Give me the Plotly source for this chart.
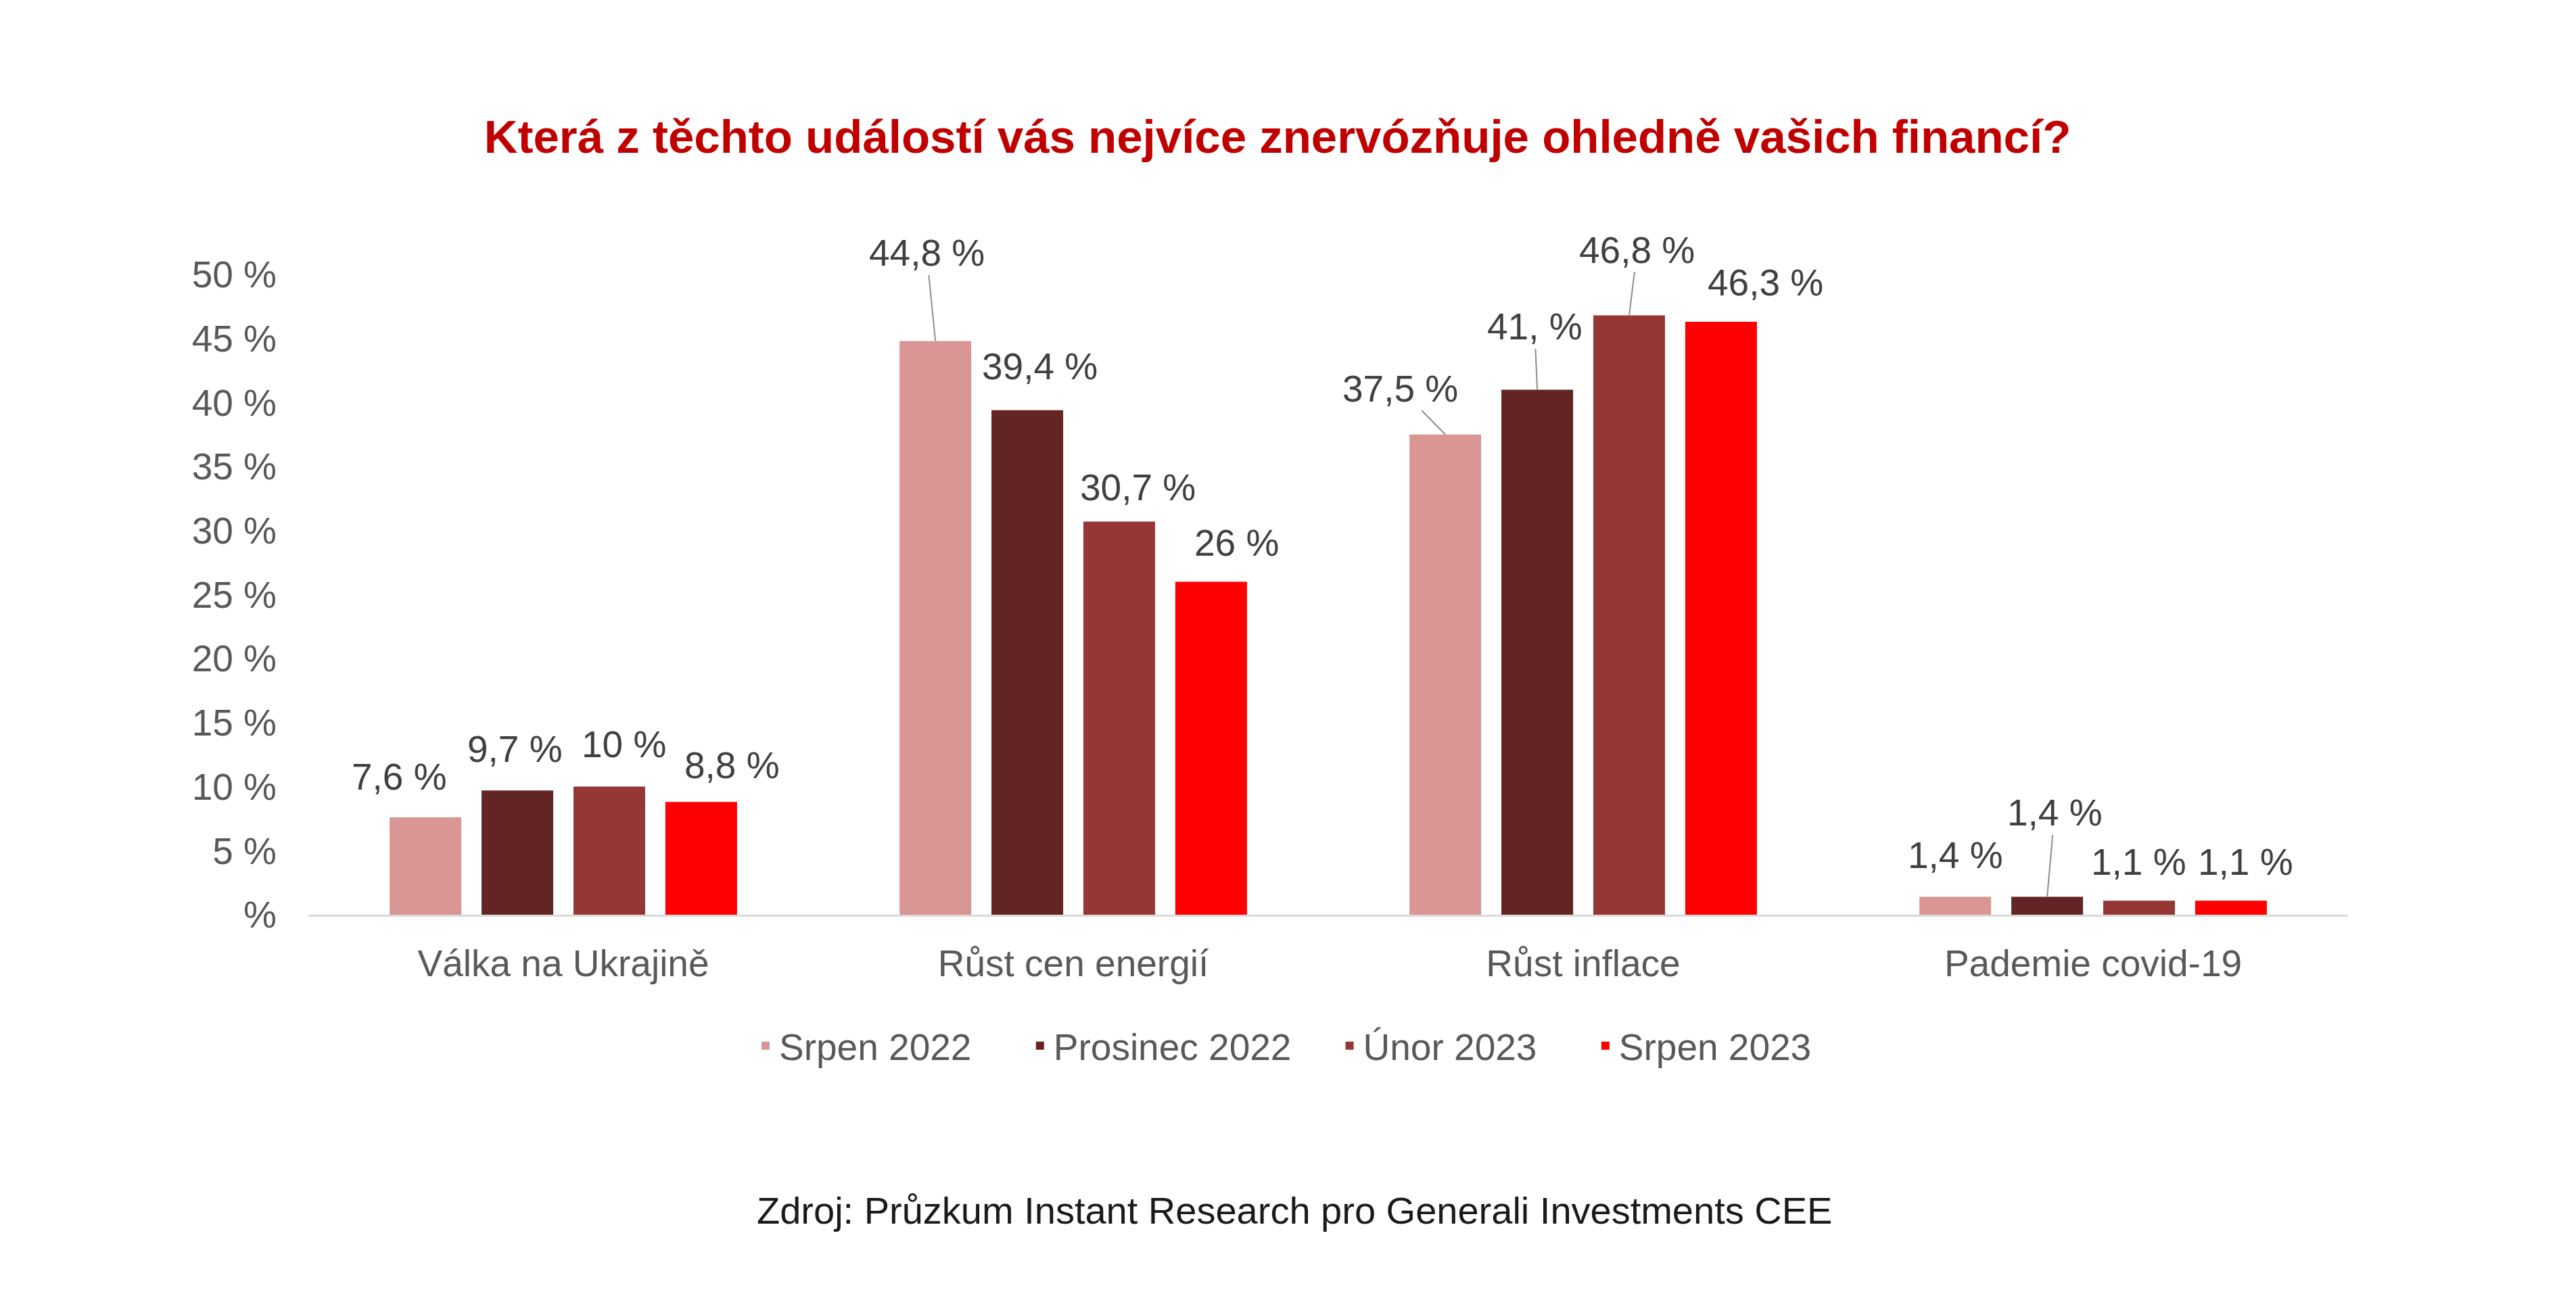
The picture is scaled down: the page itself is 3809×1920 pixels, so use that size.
import plotly.graph_objects as go

# ---------------- data ----------------
categories = ["Válka na Ukrajině", "Růst cen energií", "Růst inflace", "Pademie covid-19"]
series_names = ["Srpen 2022", "Prosinec 2022", "Únor 2023", "Srpen 2023"]
srpen_2022 = [7.6, 44.8, 37.5, 1.4]
prosinec_2022 = [9.7, 39.4, 41.0, 1.4]
unor_2023 = [10.0, 30.7, 46.8, 1.1]
srpen_2023 = [8.8, 26.0, 46.3, 1.1]
series_values = [srpen_2022, prosinec_2022, unor_2023, srpen_2023]

# data label texts as printed in the source chart
label_texts = [
    ["7,6 %", "44,8 %", "37,5 %", "1,4 %"],
    ["9,7 %", "39,4 %", "41, %", "1,4 %"],
    ["10 %", "30,7 %", "46,8 %", "1,1 %"],
    ["8,8 %", "26 %", "46,3 %", "1,1 %"],
]

y_tick_vals = [0, 5, 10, 15, 20, 25, 30, 35, 40, 45, 50]
y_tick_text = ["%", "5 %", "10 %", "15 %", "20 %", "25 %", "30 %", "35 %", "40 %", "45 %", "50 %"]

title_text = "Která z těchto událostí vás nejvíce znervózňuje ohledně vašich financí?"
source_text = "Zdroj: Průzkum Instant Research pro Generali Investments CEE"

# ---------------- styling ----------------
colors = ["#D99694", "#632523", "#953735", "#FF0000"]
FONT = "Liberation Sans, Arial, sans-serif"
TEXT_GRAY = "#595959"
LABEL_GRAY = "#404040"

W, H = 3809, 1920
M_L, M_R, M_T, M_B = 456, 337, 406, 567
BARGAP = 0.279
BARGROUPGAP = 0.22

# trailing spacing after each legend entry (number of non-breaking spaces)
legend_pad = [5, 4, 5, 0]

# label offsets (pixels) from bar top: (dx, dy, leader_line)
label_offsets = [
    [(-39, -60, False), (-13, -130, True), (-67, -68, True), (0, -61, False)],
    [(-4, -61, False), (18, -65, False), (-4, -93, True), (11, -124, True)],
    [(22, -63, False), (28, -51, False), (12, -97, True), (0, -57, False)],
    [(46, -54, False), (38, -58, False), (66, -58, False), (22, -57, False)],
]

plot_w = W - M_L - M_R
plot_h = H - M_T - M_B

fig = go.Figure()
for name, vals, col, pad in zip(series_names, series_values, colors, legend_pad):
    fig.add_trace(go.Bar(
        x=categories, y=vals, name=name + "\u00a0" * pad,
        marker=dict(color=col, line=dict(width=0)),
        hoverinfo="skip",
    ))

# bar centre offsets in category units
n_series = len(series_names)
slot = (1 - BARGAP) / n_series
annotations = []
for k in range(n_series):
    for i in range(len(categories)):
        xc = i + (k - (n_series - 1) / 2) * slot
        dx, dy, leader = label_offsets[k][i]
        annotations.append(dict(
            x=xc, y=series_values[k][i], xref="x", yref="y",
            text=label_texts[k][i],
            showarrow=True, ax=dx, ay=dy, axref="pixel", ayref="pixel",
            arrowhead=0, arrowwidth=2 if leader else 0.1,
            arrowcolor="#8C8C8C" if leader else "rgba(0,0,0,0)",
            standoff=0, startstandoff=0,
            font=dict(family=FONT, size=55, color=LABEL_GRAY),
        ))

annotations.append(dict(
    x=(1914 - M_L) / plot_w, y=(H - M_B - 1790) / plot_h,
    xref="paper", yref="paper",
    text=source_text, showarrow=False, xanchor="center", yanchor="middle",
    font=dict(family=FONT, size=56, color="#1A1A1A"),
))

fig.update_layout(
    width=W, height=H,
    margin=dict(l=M_L, r=M_R, t=M_T, b=M_B, pad=0),
    paper_bgcolor="white", plot_bgcolor="white",
    barmode="group", bargap=BARGAP, bargroupgap=BARGROUPGAP,
    font=dict(family=FONT, size=55, color=TEXT_GRAY),
    title=dict(
        text=title_text, x=1889 / W, y=1 - 202 / H,
        xref="container", yref="container", xanchor="center", yanchor="middle",
        font=dict(family=FONT, size=69, color="#C00000", weight="bold"),
    ),
    xaxis=dict(
        showline=True, linecolor="#D9D9D9", linewidth=3,
        showgrid=False, ticks="", tickfont=dict(family=FONT, size=55, color=TEXT_GRAY),
        ticklabelstandoff=22,
    ),
    yaxis=dict(
        range=[0, 50], tickvals=y_tick_vals, ticktext=y_tick_text,
        showgrid=False, zeroline=False, showline=False, ticks="",
        tickfont=dict(family=FONT, size=55, color=TEXT_GRAY),
        ticklabelstandoff=46,
    ),
    legend=dict(
        orientation="h", x=(1112 - M_L) / plot_w, y=(H - M_B - 1547) / plot_h,
        xanchor="left", yanchor="middle",
        font=dict(family=FONT, size=55, color=TEXT_GRAY),
        itemclick=False, itemdoubleclick=False,
    ),
    annotations=annotations,
    showlegend=True,
)

fig.write_html("out.html")
